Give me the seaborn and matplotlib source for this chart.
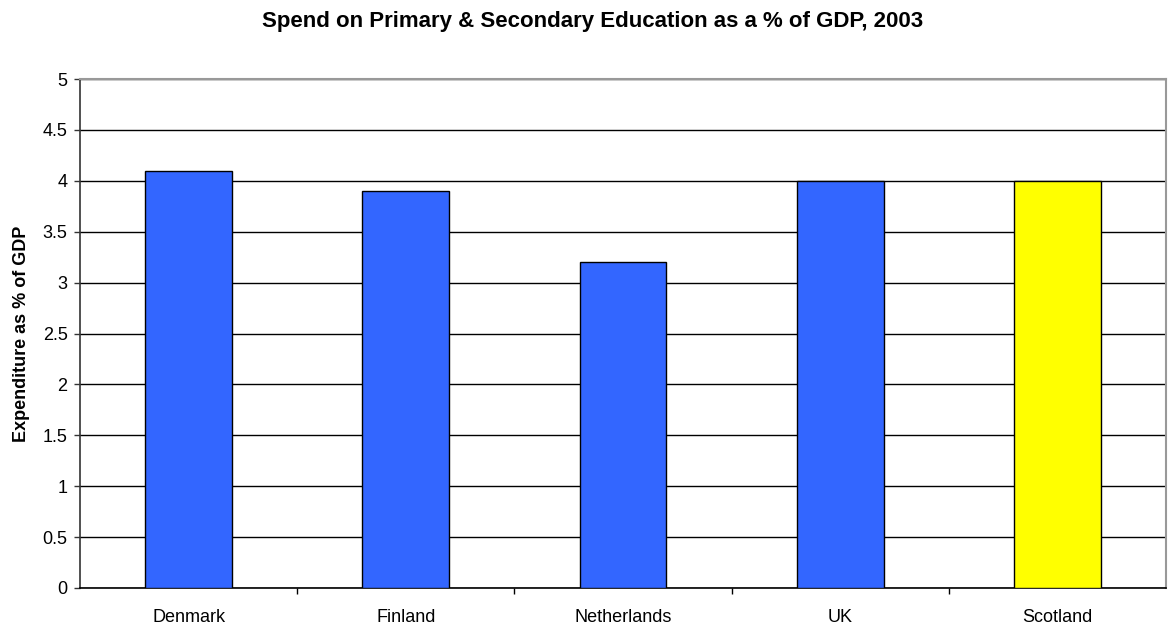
import matplotlib
matplotlib.use("Agg")
import matplotlib.pyplot as plt
import seaborn as sns
import pandas as pd

countries = ["Denmark", "Finland", "Netherlands", "UK", "Scotland"]
spend_pct_gdp = [4.1, 3.9, 3.2, 4.0, 4.0]
bar_colours = ["#3366FF", "#3366FF", "#3366FF", "#3366FF", "#FFFF00"]
y_ticks = [0, 0.5, 1, 1.5, 2, 2.5, 3, 3.5, 4, 4.5, 5]
y_tick_labels = ["0", "0.5", "1", "1.5", "2", "2.5", "3", "3.5", "4", "4.5", "5"]

df = pd.DataFrame({"country": countries, "spend": spend_pct_gdp})

sns.set_style("white")
plt.rcParams["font.family"] = ["Liberation Sans", "DejaVu Sans"]
plt.rcParams["text.color"] = "black"
plt.rcParams["axes.labelcolor"] = "black"
plt.rcParams["xtick.color"] = "black"
plt.rcParams["ytick.color"] = "black"

fig = plt.figure(figsize=(11.76, 6.27), dpi=100)
ax = fig.add_axes([80 / 1176, 39 / 627, 1086 / 1176, 509 / 627])

sns.barplot(data=df, x="country", y="spend", hue="country",
            palette=dict(zip(countries, bar_colours)), legend=False, saturation=1,
            width=0.4, edgecolor="black", linewidth=1.0, ax=ax, zorder=3)

ax.set_ylim(0, 5)
ax.set_xlim(-0.5, len(countries) - 0.5)
ax.set_yticks(y_ticks)
ax.set_yticklabels(y_tick_labels)
ax.yaxis.grid(True, color="black", linewidth=1.0, zorder=0)
ax.set_axisbelow(True)

# category separators drawn as ticks below the axis
ax.set_xticks(range(len(countries)))
ax.set_xticklabels(countries)
ax.set_xticks([i + 0.5 for i in range(len(countries) - 1)], minor=True)
ax.tick_params(axis="x", which="major", bottom=True, length=0, pad=15, labelsize=13)
ax.tick_params(axis="x", which="minor", bottom=True, length=4, width=1,
               color="black", direction="out")
ax.tick_params(axis="y", which="major", left=True, length=4, width=1, color="#333333",
               direction="out", labelsize=13, pad=5)

for side in ["top", "right"]:
    ax.spines[side].set_color("#999999")
    ax.spines[side].set_linewidth(1.5)
ax.spines["left"].set_color("#333333")
ax.spines["left"].set_linewidth(1.2)
ax.spines["bottom"].set_color("black")
ax.spines["bottom"].set_linewidth(1.2)

ax.set_xlabel("")
ax.set_ylabel("Expenditure as % of GDP", fontsize=13, fontweight="bold", labelpad=9)
fig.suptitle("Spend on Primary & Secondary Education as a % of GDP, 2003",
             fontsize=16, fontweight="bold", x=593 / 1176, y=1 - 22 / 627, va="center")

fig.savefig("out.png", dpi=100, facecolor="white")
